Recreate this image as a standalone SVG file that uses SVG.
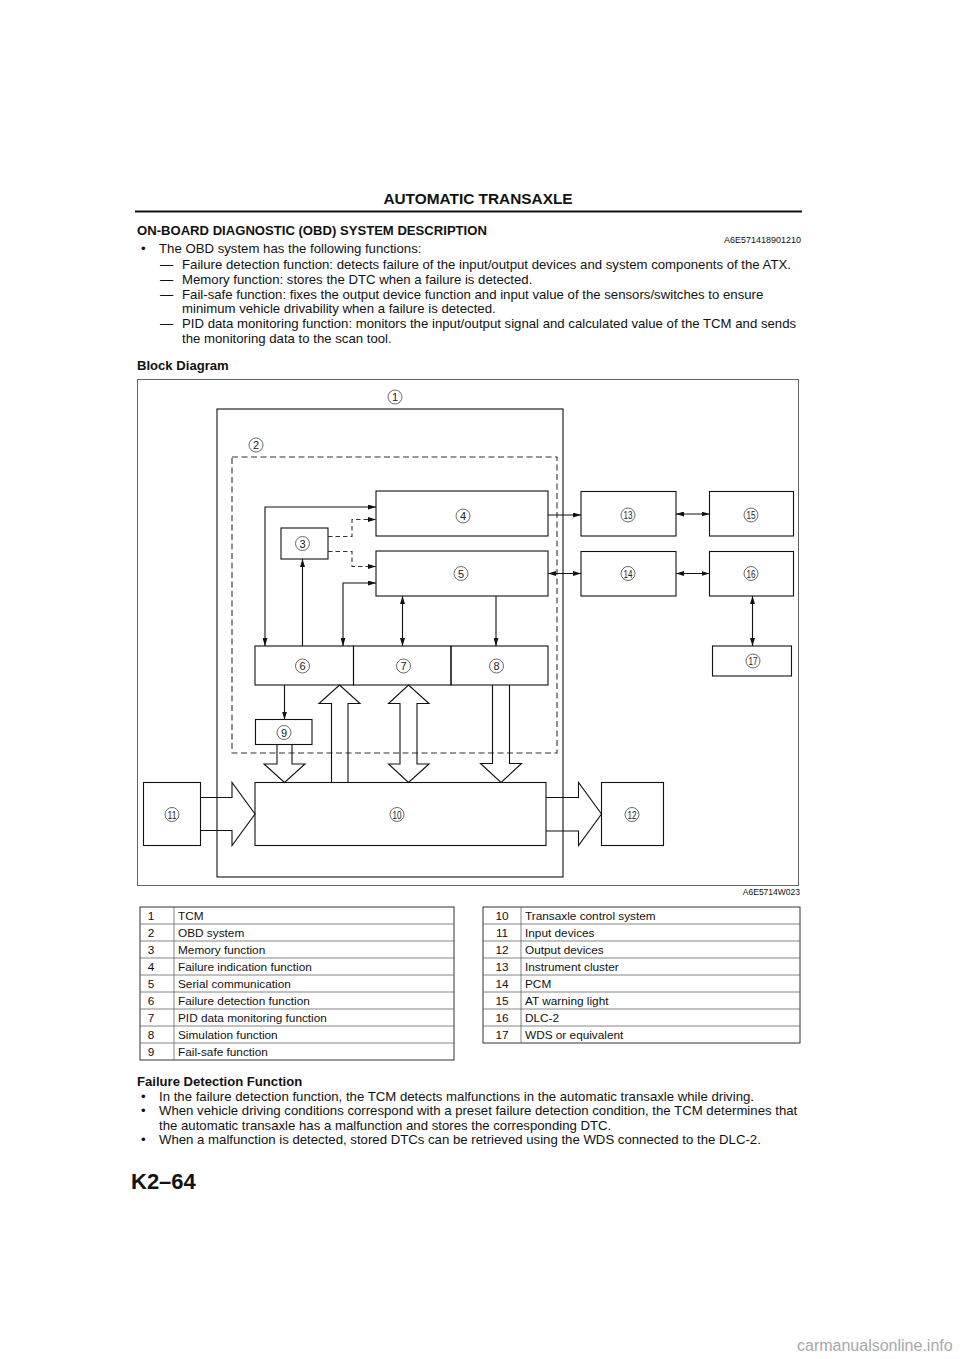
<svg xmlns="http://www.w3.org/2000/svg" width="960" height="1359" viewBox="0 0 960 1359">
<style>
text{font-family:"Liberation Sans",Arial,Helvetica,sans-serif;fill:#111}
.title{font-size:15.4px;font-weight:bold;text-anchor:middle}
.h{font-size:13.1px;font-weight:bold}
.b{font-size:13.2px}
.code{font-size:8.5px}
.t{font-size:11.8px}
.tn{font-size:11.8px;text-anchor:middle}
.box{fill:none;stroke:#111;stroke-width:1.1}
.frame{fill:none;stroke:#666;stroke-width:1}
.dash{fill:none;stroke:#333;stroke-width:1.1;stroke-dasharray:6 3.5}
.ln{fill:none;stroke:#111;stroke-width:1.1}
.dln{fill:none;stroke:#333;stroke-width:1.1;stroke-dasharray:4.5 3}
.hollow{fill:none;stroke:#111;stroke-width:1.1;stroke-linejoin:miter}
.cc{fill:#fff;stroke:#444;stroke-width:0.8}
.cn{font-size:11px;text-anchor:middle;fill:#222}
.tb{fill:none;stroke:#333;stroke-width:1}
.tl{stroke:#666;stroke-width:0.8}
</style>
<defs>
<marker id="ah" viewBox="0 0 8 5" refX="8" refY="2.5" markerWidth="8" markerHeight="5" markerUnits="userSpaceOnUse" orient="auto-start-reverse">
<path d="M0,0 L8,2.5 L0,5 z" fill="#111"/>
</marker>
</defs>
<rect width="960" height="1359" fill="#fff"/>

<!-- Header -->
<text class="title" x="478" y="204">AUTOMATIC TRANSAXLE</text>
<line x1="135" y1="211.5" x2="802" y2="211.5" stroke="#111" stroke-width="2"/>
<text class="h" x="137" y="235">ON-BOARD DIAGNOSTIC (OBD) SYSTEM DESCRIPTION</text>
<text class="code" x="801" y="243" text-anchor="end" style="font-size:9px">A6E571418901210</text>
<text class="b" x="141" y="253">•</text>
<text class="b" x="159" y="253">The OBD system has the following functions:</text>
<text class="b" x="160" y="268.5">—</text>
<text class="b" x="182" y="268.5">Failure detection function: detects failure of the input/output devices and system components of the ATX.</text>
<text class="b" x="160" y="284">—</text>
<text class="b" x="182" y="284">Memory function: stores the DTC when a failure is detected.</text>
<text class="b" x="160" y="299">—</text>
<text class="b" x="182" y="299">Fail-safe function: fixes the output device function and input value of the sensors/switches to ensure</text>
<text class="b" x="182" y="313">minimum vehicle drivability when a failure is detected.</text>
<text class="b" x="160" y="328">—</text>
<text class="b" x="182" y="328">PID data monitoring function: monitors the input/output signal and calculated value of the TCM and sends</text>
<text class="b" x="182" y="342.5">the monitoring data to the scan tool.</text>
<text class="h" x="137" y="370">Block Diagram</text>

<!-- Diagram frame -->
<rect class="frame" x="137.5" y="379.5" width="661" height="506"/>
<text class="code" x="800" y="895" text-anchor="end">A6E5714W023</text>

<!-- Nodes -->
<g id="n1">
<rect class="box" x="217" y="409" width="346" height="468"/>
<circle class="cc" cx="395" cy="397" r="7"/><text class="cn" x="395" y="401">1</text>
</g>
<g id="n2">
<rect class="dash" x="232" y="457" width="325" height="296"/>
<circle class="cc" cx="256" cy="445" r="7"/><text class="cn" x="256" y="449">2</text>
</g>
<g id="n3">
<rect class="box" x="281" y="528" width="47" height="31"/>
<circle class="cc" cx="302.5" cy="543.5" r="7"/><text class="cn" x="302.5" y="547.5">3</text>
</g>
<g id="n4">
<rect class="box" x="376" y="491" width="172" height="45"/>
<circle class="cc" cx="463" cy="516" r="7"/><text class="cn" x="463" y="520">4</text>
</g>
<g id="n5">
<rect class="box" x="376" y="551" width="172" height="45"/>
<circle class="cc" cx="461" cy="573.5" r="7"/><text class="cn" x="461" y="577.5">5</text>
</g>
<g id="n6">
<rect class="box" x="255" y="646" width="98.5" height="39"/>
<circle class="cc" cx="302.5" cy="666" r="7"/><text class="cn" x="302.5" y="670">6</text>
</g>
<g id="n7">
<rect class="box" x="353.5" y="646" width="97.5" height="39"/>
<circle class="cc" cx="403.5" cy="666" r="7"/><text class="cn" x="403.5" y="670">7</text>
</g>
<g id="n8">
<rect class="box" x="451" y="646" width="97" height="39"/>
<circle class="cc" cx="496.5" cy="666" r="7"/><text class="cn" x="496.5" y="670">8</text>
</g>
<g id="n9">
<rect class="box" x="255.5" y="719.5" width="56.5" height="25"/>
<circle class="cc" cx="284" cy="732.5" r="7"/><text class="cn" x="284" y="736.5">9</text>
</g>
<g id="n10">
<rect class="box" x="255" y="782.5" width="291" height="63"/>
<circle class="cc" cx="397" cy="814.5" r="7"/><text class="cn" x="397" y="818.5" textLength="9" lengthAdjust="spacingAndGlyphs">10</text>
</g>
<g id="n11">
<rect class="box" x="143.5" y="782.5" width="57" height="63"/>
<circle class="cc" cx="172" cy="814.5" r="7"/><text class="cn" x="172" y="818.5" textLength="9" lengthAdjust="spacingAndGlyphs">11</text>
</g>
<g id="n12">
<rect class="box" x="601.5" y="782.5" width="62" height="63"/>
<circle class="cc" cx="632" cy="814.5" r="7"/><text class="cn" x="632" y="818.5" textLength="9" lengthAdjust="spacingAndGlyphs">12</text>
</g>
<g id="n13">
<rect class="box" x="581" y="491.5" width="95" height="44.5"/>
<circle class="cc" cx="628" cy="515" r="7"/><text class="cn" x="628" y="519" textLength="9" lengthAdjust="spacingAndGlyphs">13</text>
</g>
<g id="n14">
<rect class="box" x="581" y="551.5" width="95" height="44.5"/>
<circle class="cc" cx="628" cy="573.5" r="7"/><text class="cn" x="628" y="577.5" textLength="9" lengthAdjust="spacingAndGlyphs">14</text>
</g>
<g id="n15">
<rect class="box" x="709.5" y="491.5" width="84" height="44.5"/>
<circle class="cc" cx="751" cy="515" r="7"/><text class="cn" x="751" y="519" textLength="9" lengthAdjust="spacingAndGlyphs">15</text>
</g>
<g id="n16">
<rect class="box" x="709.5" y="551.5" width="84" height="44.5"/>
<circle class="cc" cx="751" cy="573.5" r="7"/><text class="cn" x="751" y="577.5" textLength="9" lengthAdjust="spacingAndGlyphs">16</text>
</g>
<g id="n17">
<rect class="box" x="712.5" y="646" width="79" height="30"/>
<circle class="cc" cx="753" cy="661" r="7"/><text class="cn" x="753" y="665" textLength="9" lengthAdjust="spacingAndGlyphs">17</text>
</g>

<!-- Connectors -->
<g id="connectors">
<path class="ln" d="M376 507 H265 V646" marker-start="url(#ah)" marker-end="url(#ah)"/>
<path class="ln" d="M302.5 646 V559" marker-end="url(#ah)"/>
<path class="ln" d="M343 646 V583 H376" marker-start="url(#ah)" marker-end="url(#ah)"/>
<path class="dln" d="M328 536.5 H352 V519.5 H376" marker-end="url(#ah)"/>
<path class="dln" d="M328 551.5 H352 V566.5 H376" marker-end="url(#ah)"/>
<path class="ln" d="M402.5 596 V646" marker-start="url(#ah)" marker-end="url(#ah)"/>
<path class="ln" d="M496 596 V646" marker-end="url(#ah)"/>
<path class="ln" d="M284.5 685 V719.5" marker-end="url(#ah)"/>
<path class="ln" d="M548 515 H581" marker-end="url(#ah)"/>
<path class="ln" d="M548 573.5 H581" marker-start="url(#ah)" marker-end="url(#ah)"/>
<path class="ln" d="M676 514 H709.5" marker-start="url(#ah)" marker-end="url(#ah)"/>
<path class="ln" d="M676 573.5 H709.5" marker-start="url(#ah)" marker-end="url(#ah)"/>
<path class="ln" d="M752.5 596 V646" marker-start="url(#ah)" marker-end="url(#ah)"/>
<!-- hollow arrows -->
<path class="hollow" d="M277 744.5 V764 H264 L284.5 782.5 L305 764 H292 V744.5"/>
<path class="hollow" d="M331.5 782.5 V703.5 H319 L339.5 685 L360 703.5 H348 V782.5"/>
<path class="hollow" d="M400 703.5 H388.5 L408.5 685 L429 703.5 H417 V764 H429 L408.5 782.5 L388.5 764 H400 Z"/>
<path class="hollow" d="M492.5 685 V763.5 H480.5 L501 782.5 L521.5 763.5 H509.5 V685"/>
<path class="hollow" d="M200.5 797.5 H232 V782.5 L255 814 L232 845.5 V830.5 H200.5"/>
<path class="hollow" d="M546 797.5 H578.5 V782.5 L601.5 814 L578.5 845.5 V831 H546"/>
</g>

<!-- Left table -->
<g id="table-left">
<rect class="tb" x="140" y="907" width="314" height="153"/>
<line class="tl" x1="174" y1="907" x2="174" y2="1060"/>
<line class="tl" x1="140" y1="924" x2="454" y2="924"/>
<line class="tl" x1="140" y1="941" x2="454" y2="941"/>
<line class="tl" x1="140" y1="958" x2="454" y2="958"/>
<line class="tl" x1="140" y1="975" x2="454" y2="975"/>
<line class="tl" x1="140" y1="992" x2="454" y2="992"/>
<line class="tl" x1="140" y1="1009" x2="454" y2="1009"/>
<line class="tl" x1="140" y1="1026" x2="454" y2="1026"/>
<line class="tl" x1="140" y1="1043" x2="454" y2="1043"/>
<text class="tn" x="151" y="919.5">1</text><text class="t" x="178" y="919.5">TCM</text>
<text class="tn" x="151" y="936.5">2</text><text class="t" x="178" y="936.5">OBD system</text>
<text class="tn" x="151" y="953.5">3</text><text class="t" x="178" y="953.5">Memory function</text>
<text class="tn" x="151" y="970.5">4</text><text class="t" x="178" y="970.5">Failure indication function</text>
<text class="tn" x="151" y="987.5">5</text><text class="t" x="178" y="987.5">Serial communication</text>
<text class="tn" x="151" y="1004.5">6</text><text class="t" x="178" y="1004.5">Failure detection function</text>
<text class="tn" x="151" y="1021.5">7</text><text class="t" x="178" y="1021.5">PID data monitoring function</text>
<text class="tn" x="151" y="1038.5">8</text><text class="t" x="178" y="1038.5">Simulation function</text>
<text class="tn" x="151" y="1055.5">9</text><text class="t" x="178" y="1055.5">Fail-safe function</text>
</g>

<!-- Right table -->
<g id="table-right">
<rect class="tb" x="483" y="907" width="317" height="136"/>
<line class="tl" x1="521" y1="907" x2="521" y2="1043"/>
<line class="tl" x1="483" y1="924" x2="800" y2="924"/>
<line class="tl" x1="483" y1="941" x2="800" y2="941"/>
<line class="tl" x1="483" y1="958" x2="800" y2="958"/>
<line class="tl" x1="483" y1="975" x2="800" y2="975"/>
<line class="tl" x1="483" y1="992" x2="800" y2="992"/>
<line class="tl" x1="483" y1="1009" x2="800" y2="1009"/>
<line class="tl" x1="483" y1="1026" x2="800" y2="1026"/>
<text class="tn" x="502" y="919.5">10</text><text class="t" x="525" y="919.5">Transaxle control system</text>
<text class="tn" x="502" y="936.5">11</text><text class="t" x="525" y="936.5">Input devices</text>
<text class="tn" x="502" y="953.5">12</text><text class="t" x="525" y="953.5">Output devices</text>
<text class="tn" x="502" y="970.5">13</text><text class="t" x="525" y="970.5">Instrument cluster</text>
<text class="tn" x="502" y="987.5">14</text><text class="t" x="525" y="987.5">PCM</text>
<text class="tn" x="502" y="1004.5">15</text><text class="t" x="525" y="1004.5">AT warning light</text>
<text class="tn" x="502" y="1021.5">16</text><text class="t" x="525" y="1021.5">DLC-2</text>
<text class="tn" x="502" y="1038.5">17</text><text class="t" x="525" y="1038.5">WDS or equivalent</text>
</g>

<!-- Failure detection section -->
<text class="h" x="137" y="1086">Failure Detection Function</text>
<text class="b" x="141" y="1100.5">•</text>
<text class="b" x="159" y="1100.5">In the failure detection function, the TCM detects malfunctions in the automatic transaxle while driving.</text>
<text class="b" x="141" y="1115">•</text>
<text class="b" x="159" y="1115">When vehicle driving conditions correspond with a preset failure detection condition, the TCM determines that</text>
<text class="b" x="159" y="1129.5">the automatic transaxle has a malfunction and stores the corresponding DTC.</text>
<text class="b" x="141" y="1144">•</text>
<text class="b" x="159" y="1144">When a malfunction is detected, stored DTCs can be retrieved using the WDS connected to the DLC-2.</text>

<text x="131" y="1189" style="font-size:22px;font-weight:bold">K2–64</text>
<text x="797" y="1351" style="font-size:16px;fill:#a8a8a8">carmanualsonline.info</text>
</svg>
